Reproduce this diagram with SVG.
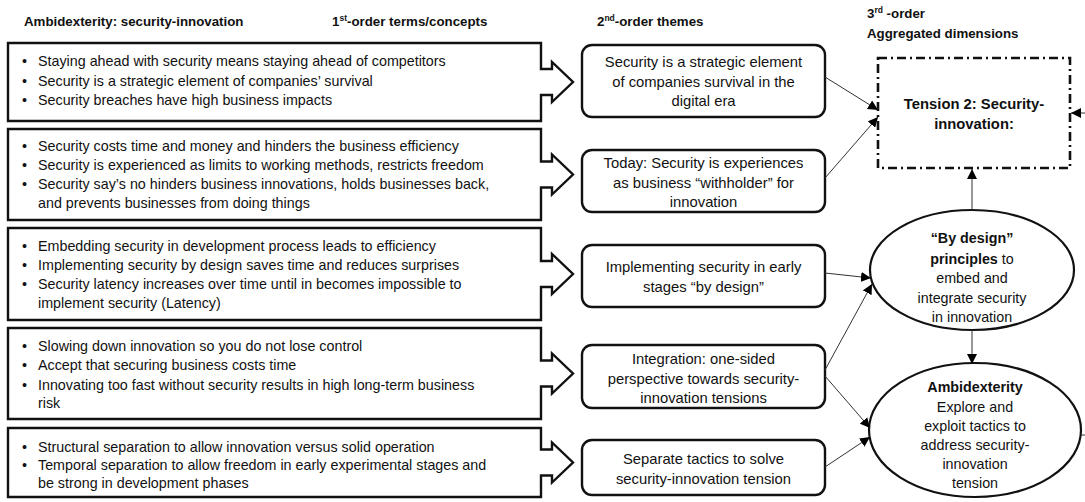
<svg xmlns="http://www.w3.org/2000/svg" width="1085" height="502" viewBox="0 0 1085 502">
<defs>
<style>
text{font-family:"Liberation Sans",Arial,sans-serif;fill:#111}
.h{font-size:13.3px;font-weight:bold}
.t{font-size:14.3px}
.r{font-size:14.8px}
.c{text-anchor:middle}
.b{font-weight:bold}
.callout{fill:#fff;stroke:#111;stroke-width:2.4;stroke-linejoin:miter}
.rbox{fill:#fff;stroke:#111;stroke-width:2.4}
.ell{fill:#fff;stroke:#111;stroke-width:2.2}
.dash{fill:#fff;stroke:#111;stroke-width:2.6;stroke-dasharray:9 4 2 4}
.con{stroke:#333;stroke-width:1;fill:none;marker-end:url(#ah)}
</style>
<marker id="ah" viewBox="0 0 10 10" refX="10" refY="5" markerWidth="10" markerHeight="10" markerUnits="userSpaceOnUse" orient="auto">
<path d="M0,0 L10,5 L0,10 Z" fill="#000"/>
</marker>
</defs>
<rect width="1085" height="502" fill="#fff"/>

<g id="headers">
<text class="h" x="24" y="26">Ambidexterity: security-innovation</text>
<text class="h" x="332" y="26">1<tspan font-size="8.5" dy="-5">st</tspan><tspan dy="5">-order terms/concepts</tspan></text>
<text class="h" x="597" y="26">2<tspan font-size="8.5" dy="-5">nd</tspan><tspan dy="5">-order themes</tspan></text>
<text class="h" x="867" y="18">3<tspan font-size="8.5" dy="-5">rd</tspan><tspan dy="5"> -order</tspan></text>
<text class="h" x="867" y="38">Aggregated dimensions</text>
</g>

<g id="concepts1">
<path class="callout" d="M8,43 H541 V69 H552 V62 L573,82 L552,102 V95 H541 V121 H8 Z"/>
<text class="t" x="22" y="66">•</text><text class="t" x="38" y="66">Staying ahead with security means staying ahead of competitors</text>
<text class="t" x="22" y="86">•</text><text class="t" x="38" y="86">Security is a strategic element of companies’ survival</text>
<text class="t" x="22" y="105">•</text><text class="t" x="38" y="105">Security breaches have high business impacts</text>
</g>

<g id="concepts2">
<path class="callout" d="M8,129 H541 V161.5 H552 V154.5 L573,174.5 L552,194.5 V187.5 H541 V220 H8 Z"/>
<text class="t" x="22" y="151">•</text><text class="t" x="38" y="151">Security costs time and money and hinders the business efficiency</text>
<text class="t" x="22" y="170">•</text><text class="t" x="38" y="170">Security is experienced as limits to working methods, restricts freedom</text>
<text class="t" x="22" y="189">•</text><text class="t" x="38" y="189">Security say’s no hinders business innovations, holds businesses back,</text>
<text class="t" x="38" y="208">and prevents businesses from doing things</text>
</g>

<g id="concepts3">
<path class="callout" d="M8,228 H541 V261 H552 V254 L573,274 L552,294 V287 H541 V320 H8 Z"/>
<text class="t" x="22" y="251">•</text><text class="t" x="38" y="251">Embedding security in development process leads to efficiency</text>
<text class="t" x="22" y="270">•</text><text class="t" x="38" y="270">Implementing security by design saves time and reduces surprises</text>
<text class="t" x="22" y="289">•</text><text class="t" x="38" y="289">Security latency increases over time until in becomes impossible to</text>
<text class="t" x="38" y="308">implement security (Latency)</text>
</g>

<g id="concepts4">
<path class="callout" d="M8,328 H541 V360.5 H552 V353.5 L573,373.5 L552,393.5 V386.5 H541 V419 H8 Z"/>
<text class="t" x="22" y="351">•</text><text class="t" x="38" y="351">Slowing down innovation so you do not lose control</text>
<text class="t" x="22" y="370">•</text><text class="t" x="38" y="370">Accept that securing business costs time</text>
<text class="t" x="22" y="390">•</text><text class="t" x="38" y="390">Innovating too fast without security results in high long-term business</text>
<text class="t" x="38" y="408">risk</text>
</g>

<g id="concepts5">
<path class="callout" d="M8,428 H541 V449.5 H552 V442.5 L573,462.5 L552,482.5 V475.5 H541 V497 H8 Z"/>
<text class="t" x="22" y="452">•</text><text class="t" x="38" y="452">Structural separation to allow innovation versus solid operation</text>
<text class="t" x="22" y="470">•</text><text class="t" x="38" y="470">Temporal separation to allow freedom in early experimental stages and</text>
<text class="t" x="38" y="488">be strong in development phases</text>
</g>

<g id="theme1">
<rect class="rbox" x="582" y="45" width="243" height="72" rx="10"/>
<text class="r c" x="703.5" y="67">Security is a strategic element</text>
<text class="r c" x="703.5" y="87">of companies survival in the</text>
<text class="r c" x="703.5" y="106">digital era</text>
</g>

<g id="theme2">
<rect class="rbox" x="582" y="150" width="243" height="62" rx="10"/>
<text class="r c" x="703.5" y="168">Today: Security is experiences</text>
<text class="r c" x="703.5" y="188">as business “withholder” for</text>
<text class="r c" x="703.5" y="207">innovation</text>
</g>

<g id="theme3">
<rect class="rbox" x="582" y="245" width="243" height="62" rx="10"/>
<text class="r c" x="703.5" y="272">Implementing security in early</text>
<text class="r c" x="703.5" y="292">stages “by design”</text>
</g>

<g id="theme4">
<rect class="rbox" x="582" y="345" width="243" height="63" rx="10"/>
<text class="r c" x="703.5" y="364">Integration: one-sided</text>
<text class="r c" x="703.5" y="384">perspective towards security-</text>
<text class="r c" x="703.5" y="403">innovation tensions</text>
</g>

<g id="theme5">
<rect class="rbox" x="582" y="440" width="243" height="55" rx="10"/>
<text class="r c" x="703.5" y="464">Separate tactics to solve</text>
<text class="r c" x="703.5" y="484">security-innovation tension</text>
</g>

<g id="tension">
<rect class="dash" x="878" y="58" width="192" height="110"/>
<text class="c b" x="974" y="109" font-size="14.8">Tension 2: Security-</text>
<text class="c b" x="974" y="129" font-size="14.8">innovation:</text>
</g>

<g id="bydesign">
<ellipse class="ell" cx="972" cy="270" rx="102" ry="60"/>
<text class="t c b" x="972" y="243">“By design”</text>
<text class="t c" x="972" y="264"><tspan class="b">principles</tspan> to</text>
<text class="t c" x="972" y="283">embed and</text>
<text class="t c" x="972" y="303">integrate security</text>
<text class="t c" x="972" y="322">in innovation</text>
</g>

<g id="ambidexterity">
<ellipse class="ell" cx="975" cy="430" rx="106" ry="67"/>
<text class="t c b" x="975" y="392">Ambidexterity</text>
<text class="t c" x="975" y="412">Explore and</text>
<text class="t c" x="975" y="431">exploit tactics to</text>
<text class="t c" x="975" y="450">address security-</text>
<text class="t c" x="975" y="469">innovation</text>
<text class="t c" x="975" y="488">tension</text>
</g>

<g id="connectors">
<line class="con" x1="825" y1="77" x2="878" y2="110"/>
<line class="con" x1="825" y1="178" x2="878" y2="117"/>
<line class="con" x1="972" y1="210" x2="972" y2="169"/>
<line class="con" x1="825" y1="273" x2="871" y2="278"/>
<line class="con" x1="825" y1="370" x2="872" y2="284"/>
<line class="con" x1="825" y1="376" x2="870" y2="428"/>
<line class="con" x1="825" y1="467" x2="870" y2="437"/>
<line class="con" x1="972" y1="330" x2="972" y2="364"/>
<line class="con" x1="1085" y1="113" x2="1071" y2="113"/>
<line x1="1081" y1="435" x2="1085" y2="435" stroke="#333" stroke-width="1"/>
</g>
</svg>
